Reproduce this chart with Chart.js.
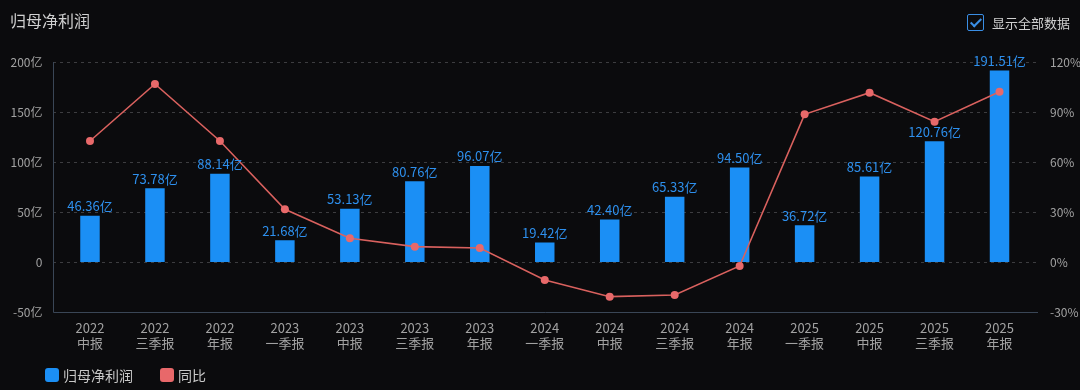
<!DOCTYPE html>
<html>
<head>
<meta charset="utf-8">
<script src="https://cdn.jsdelivr.net/npm/chart.js@4"></script>
<style>
  html, body { margin: 0; padding: 0; background: #0b0b0d; }
  #wrap { position: relative; width: 1080px; height: 390px; background: #0b0b0d; overflow: hidden; }
  #chart { position: absolute; left: 0; top: 0; }
  .txt { position: absolute; font-family: "Noto Sans CJK SC", sans-serif; color: #d0d0d0; white-space: nowrap; }
  #title { left: 10px; top: 8px; font-size: 16px; line-height: 24px; }
  #showAll { left: 992px; top: 13px; font-size: 13px; line-height: 20px; }
  #box { position: absolute; left: 967px; top: 14px; width: 15px; height: 15px; border: 1.5px solid #3a8ee4; border-radius: 2px; }
  #box::after { content: ""; position: absolute; left: 4.5px; top: 0.5px; width: 4px; height: 9px; border-right: 2px solid #3a8ee4; border-bottom: 2px solid #3a8ee4; transform: rotate(45deg); }
  .swatch { position: absolute; top: 368px; width: 14px; height: 14px; border-radius: 3px; }
  .legend { top: 364px; font-size: 14px; line-height: 22px; color: #c8c8c8; }
</style>
</head>
<body>
<div id="wrap">
  <canvas id="chart" width="1080" height="390"></canvas>
  <div id="title" class="txt">归母净利润</div>
  <div id="box"></div>
  <div id="showAll" class="txt">显示全部数据</div>
  <div class="swatch" style="left:45px;background:#1b8ff5"></div>
  <div class="txt legend" style="left:63px">归母净利润</div>
  <div class="swatch" style="left:160px;background:#e8686a"></div>
  <div class="txt legend" style="left:178px">同比</div>
</div>
<script>
// categories (year / report period)
const categories = [
  ['2022', '中报'], ['2022', '三季报'], ['2022', '年报'],
  ['2023', '一季报'], ['2023', '中报'], ['2023', '三季报'], ['2023', '年报'],
  ['2024', '一季报'], ['2024', '中报'], ['2024', '三季报'], ['2024', '年报'],
  ['2025', '一季报'], ['2025', '中报'], ['2025', '三季报'], ['2025', '年报'],
]

// 归母净利润 (亿)
const profitValues = [46.36, 73.78, 88.14, 21.68, 53.13, 80.76, 96.07, 19.42, 42.40, 65.33, 94.50, 36.72, 85.61, 120.76, 191.51]

// 同比 (%)
const yoyValues = [72.6, 106.8, 72.6, 31.6, 14.2, 9.2, 8.4, -10.8, -20.8, -19.8, -2.4, 88.6, 101.6, 84.2, 102.2]

// axis ticks
const leftTicks = [-50, 0, 50, 100, 150, 200]
const rightTicks = [-30, 0, 30, 60, 90, 120]

const FONT = '"Noto Sans CJK SC", sans-serif'
const BAR_COLOR = '#1b8ff5'
const LABEL_COLOR = '#2e90ee'
const LINE_COLOR = '#d9615e'
const POINT_COLOR = '#e8696a'
const GRID_COLOR = '#3d3d40'
const AXIS_COLOR = '#3a4656'
const TICK_COLOR = '#a2a2a2'

// dashed grid + axis lines (slightly wider than the category band)
const gridPlugin = {
  id: 'gridLines',
  beforeDatasetsDraw(chart) {
    const { ctx, chartArea } = chart
    const yScale = chart.scales.y
    const x0 = chartArea.left - 4.5
    const x1 = chartArea.right + 6
    ctx.save()
    ctx.lineWidth = 1
    ctx.strokeStyle = GRID_COLOR
    ctx.setLineDash([3, 4])
    leftTicks.forEach((v) => {
      if (v === leftTicks[0]) return
      const y = Math.round(yScale.getPixelForValue(v)) + 0.5
      ctx.beginPath()
      ctx.moveTo(x0, y)
      ctx.lineTo(x1, y)
      ctx.stroke()
    })
    ctx.setLineDash([])
    ctx.strokeStyle = AXIS_COLOR
    const yb = Math.round(chartArea.bottom) + 0.5
    const xl = Math.round(x0) + 0.5
    ctx.beginPath()
    ctx.moveTo(xl, chartArea.top)
    ctx.lineTo(xl, yb)
    ctx.lineTo(x1, yb)
    ctx.stroke()
    ctx.restore()
  },
}

// value labels above the bars
const barLabelPlugin = {
  id: 'barLabels',
  afterDatasetsDraw(chart) {
    const { ctx } = chart
    const meta = chart.getDatasetMeta(0)
    ctx.save()
    ctx.fillStyle = LABEL_COLOR
    ctx.font = `13px ${FONT}`
    ctx.textAlign = 'center'
    ctx.textBaseline = 'bottom'
    meta.data.forEach((bar, i) => {
      ctx.fillText(profitValues[i].toFixed(2) + '亿', bar.x, bar.y - 3)
    })
    ctx.restore()
  },
}

new Chart(document.getElementById('chart').getContext('2d'), {
  type: 'bar',
  data: {
    labels: categories,
    datasets: [
      {
        type: 'bar',
        label: '归母净利润',
        data: profitValues,
        backgroundColor: BAR_COLOR,
        barPercentage: 0.3,
        categoryPercentage: 1,
        yAxisID: 'y',
        order: 1,
      },
      {
        type: 'line',
        label: '同比',
        data: yoyValues,
        borderColor: LINE_COLOR,
        borderWidth: 1.6,
        pointRadius: 4,
        pointBackgroundColor: POINT_COLOR,
        pointBorderColor: POINT_COLOR,
        pointBorderWidth: 0,
        tension: 0,
        yAxisID: 'y1',
        order: 0,
      },
    ],
  },
  options: {
    responsive: false,
    animation: false,
    layout: { padding: { top: 62, left: 0, right: 0, bottom: 0 } },
    plugins: { legend: { display: false }, tooltip: { enabled: false } },
    scales: {
      x: {
        grid: { display: false, drawTicks: false },
        border: { display: false },
        ticks: {
          color: TICK_COLOR,
          font: { size: 13, family: FONT, lineHeight: 1.2 },
          padding: 8,
          maxRotation: 0,
          autoSkip: false,
        },
        afterFit(s) { s.height = 78 },
      },
      y: {
        position: 'left',
        min: leftTicks[0],
        max: leftTicks[leftTicks.length - 1],
        grid: { display: false, drawTicks: false },
        border: { display: false },
        afterBuildTicks(s) { s.ticks = leftTicks.map((v) => ({ value: v })) },
        ticks: {
          color: TICK_COLOR,
          font: { size: 12, family: FONT },
          padding: 15,
          callback: (v) => (v === 0 ? '0' : v + '亿'),
        },
        afterFit(s) { s.width = 57.5 },
      },
      y1: {
        position: 'right',
        min: rightTicks[0],
        max: rightTicks[rightTicks.length - 1],
        grid: { display: false, drawTicks: false },
        border: { display: false },
        afterBuildTicks(s) { s.ticks = rightTicks.map((v) => ({ value: v })) },
        ticks: {
          color: TICK_COLOR,
          font: { size: 12, family: FONT },
          padding: 18,
          callback: (v) => v + '%',
        },
        afterFit(s) { s.width = 48 },
      },
    },
  },
  plugins: [gridPlugin, barLabelPlugin],
})
</script>
</body>
</html>
